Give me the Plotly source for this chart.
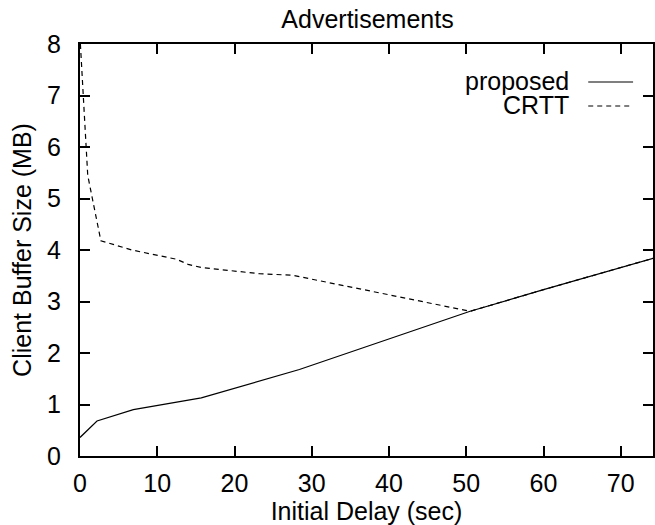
import plotly.graph_objects as go

title = "Advertisements"
x_label = "Initial Delay (sec)"
y_label = "Client Buffer Size (MB)"

proposed_x = [0, 2.2, 6.9, 15.7, 28.4, 38.7, 50.5, 60, 74.2]
proposed_y = [0.36, 0.68, 0.90, 1.13, 1.68, 2.20, 2.81, 3.23, 3.84]

crtt_x = [0.05, 0.4, 0.8, 1.0, 1.6, 2.7, 6.7, 12.5, 14.0, 15.7, 23.2, 27.5, 50.5, 60, 74.2]
crtt_y = [8.0, 7.0, 5.9, 5.45, 5.0, 4.18, 4.0, 3.82, 3.72, 3.66, 3.54, 3.51, 2.81, 3.23, 3.84]

x_ticks = [0, 10, 20, 30, 40, 50, 60, 70]
y_ticks = [0, 1, 2, 3, 4, 5, 6, 7, 8]
x_range = [0, 74.17]
y_range = [0, 8]

FONT = "Liberation Sans, Arial, Helvetica, sans-serif"
FS = 25

fig = go.Figure()
fig.add_trace(go.Scatter(x=proposed_x, y=proposed_y, mode="lines", name="proposed",
                         line=dict(color="black", width=1.2), showlegend=False))
fig.add_trace(go.Scatter(x=crtt_x, y=crtt_y, mode="lines", name="CRTT",
                         line=dict(color="black", width=1.2, dash="5px,4px"), showlegend=False))

L, R, T, B = 80, 0, 44, 69
W, H = 655, 525
pw, ph = W - L - R, H - T - B

def px_x(p):
    return (p - L) / pw

def px_y(p):
    return (H - B - p) / ph

legend_items = [("proposed", "solid", 81), ("CRTT", "5px,4px", 105)]
for name, dash, yy in legend_items:
    fig.add_annotation(x=px_x(573), y=px_y(yy), xref="paper", yref="paper",
                       text=name, showarrow=False, xanchor="right", yanchor="middle",
                       font=dict(family=FONT, size=FS, color="black"))
    fig.add_shape(type="line", xref="paper", yref="paper",
                  x0=px_x(590), x1=px_x(635), y0=px_y(yy + 1), y1=px_y(yy + 1),
                  line=dict(color="black", width=1.2, dash=dash))

axis_common = dict(showgrid=False, zeroline=False, showline=True, linecolor="black",
                   linewidth=2, mirror="ticks", ticks="inside", ticklen=10,
                   tickwidth=1.5, tickcolor="black",
                   tickfont=dict(family=FONT, size=FS, color="black"))

fig.update_layout(
    width=W, height=H,
    margin=dict(l=L, r=R, t=T, b=B, pad=0),
    paper_bgcolor="white", plot_bgcolor="white",
    title=dict(text=title, x=367.5 / W, xanchor="center", y=1 - 19 / H, yanchor="middle",
               font=dict(family=FONT, size=FS, color="black")),
    xaxis=dict(range=x_range, tickvals=x_ticks, ticklabelstandoff=4,
               title=dict(text=x_label, standoff=0, font=dict(family=FONT, size=FS, color="black")),
               **axis_common),
    yaxis=dict(range=y_range, tickvals=y_ticks, ticklabelstandoff=12,
               title=dict(text=y_label, standoff=8, font=dict(family=FONT, size=FS, color="black")),
               **axis_common),
)

fig.write_html("out.html")
